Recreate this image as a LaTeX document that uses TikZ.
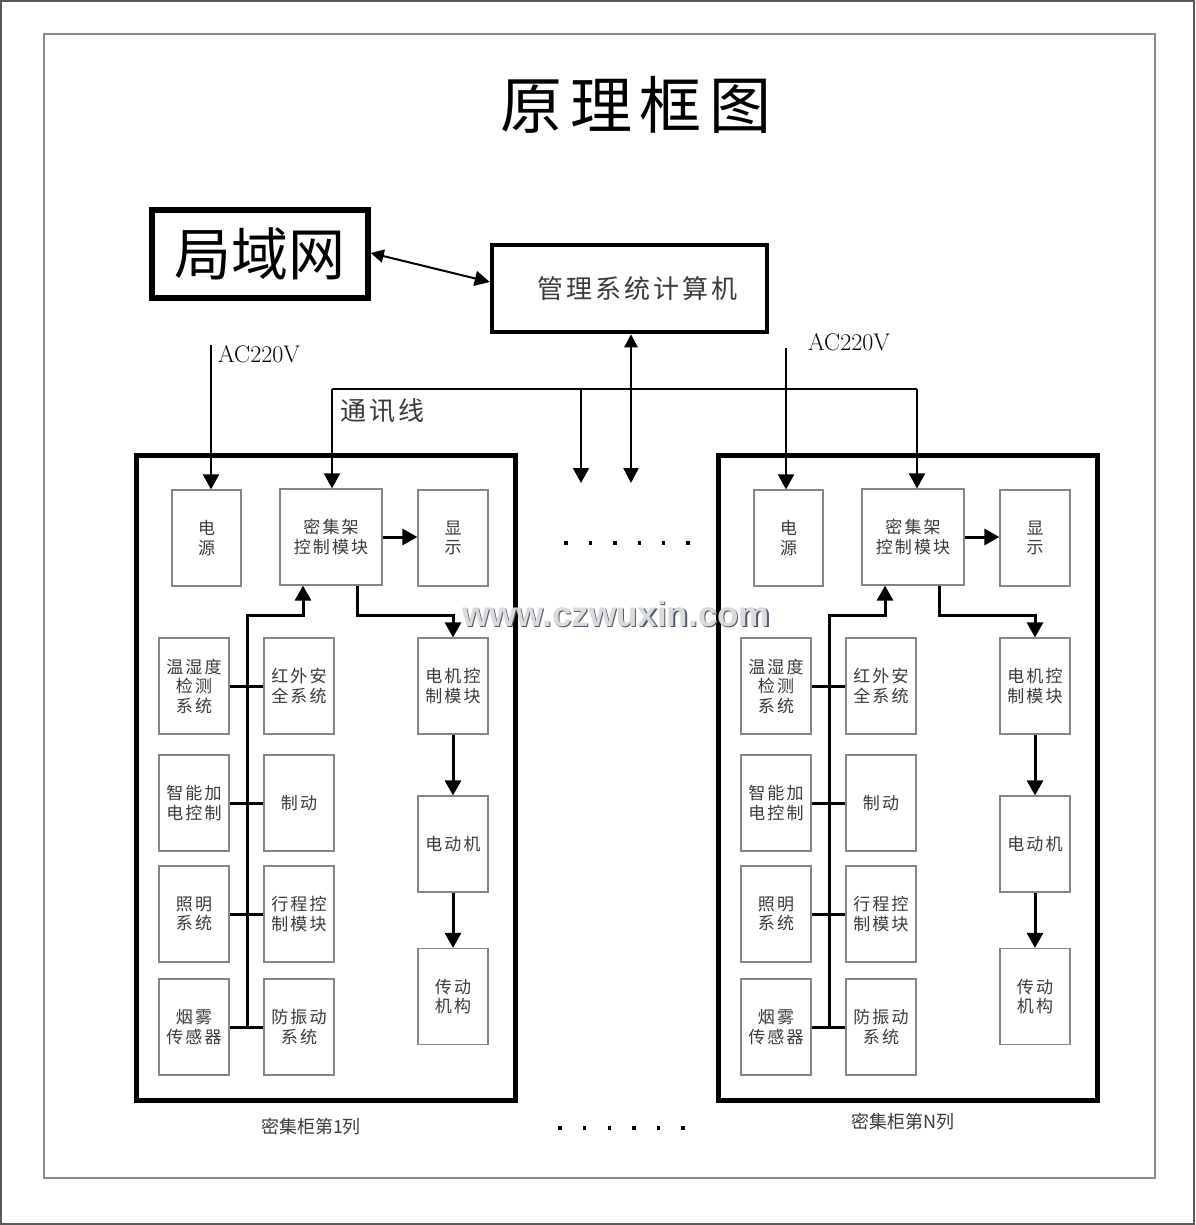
\documentclass[tikz,border=0pt]{standalone}
\usepackage{fontspec}
\usetikzlibrary{arrows.meta}
\newfontfamily\cjk{Noto Sans CJK SC}
\newfontfamily\cjkls[LetterSpace=12]{Noto Sans CJK SC}
\newfontfamily\wmfont{Liberation Sans}
\definecolor{boxgray}{HTML}{858585}
\definecolor{txtgray}{HTML}{3A3A3A}
\definecolor{framegray}{HTML}{8A8A8A}
\definecolor{wmfill}{HTML}{DADADA}
\definecolor{wmshadow}{HTML}{4E5A6E}
\tikzset{
  unitbox/.style={draw=boxgray, line width=1.2pt, minimum width=70pt, minimum height=96pt,
    inner sep=0pt, align=center, text=txtgray, font=\cjkls\fontsize{17}{19.5}\selectfont},
  cabinet/.style={draw=black, line width=5pt, minimum width=379pt, minimum height=645pt, inner sep=0pt},
  wire/.style={line width=3pt, black},
  topwire/.style={line width=2pt, black},
  arr/.style={-{Triangle[length=15pt,width=16pt]}},
  darr/.style={{Triangle[length=13pt,width=13pt]}-{Triangle[length=15pt,width=15pt]}},
  cablabel/.style={inner sep=0pt, text=txtgray, font=\cjk\fontsize{18}{20}\selectfont},
  aclabel/.style={inner sep=0pt, font=\fontsize{24}{26}\selectfont},
}
\newcommand\cabinetblock[2]{%
\begin{scope}[xshift=#2]
\node[cabinet] (#1cab) at (325.5,777.5) {};
\node[unitbox, minimum width=69pt] (#1ps) at (206.5,538) {电\\源};
\node[unitbox, minimum width=102pt] (#1ctl) at (331,537) {密集架\\控制模块};
\node[unitbox] (#1disp) at (453,538) {显\\示};
\node[unitbox] (#1aA) at (194,686) {温湿度\\检测\\系统};
\node[unitbox] (#1bA) at (299,686) {红外安\\全系统};
\node[unitbox] (#1mc) at (453,686) {电机控\\制模块};
\node[unitbox] (#1aB) at (194,803) {智能加\\电控制};
\node[unitbox] (#1bB) at (299,803) {制动};
\node[unitbox] (#1mo) at (453,844) {电动机};
\node[unitbox] (#1aC) at (194,914) {照明\\系统};
\node[unitbox] (#1bC) at (299,914) {行程控\\制模块};
\node[unitbox] (#1tr) at (453,996.5) {传动\\机构};
\node[unitbox] (#1aD) at (194,1027) {烟雾\\传感器};
\node[unitbox] (#1bD) at (299,1027) {防振动\\系统};
\coordinate (#1busB) at (247,1027);
\coordinate (#1busT) at (247,615);
\draw[wire] (#1aA.east) -- (#1bA.west);
\draw[wire] (#1aB.east) -- (#1bB.west);
\draw[wire] (#1aC.east) -- (#1bC.west);
\draw[wire] (#1aD.east) -- (#1bD.west);
\draw[wire, arr] (#1busB) -- (#1busT) -| ([xshift=-28pt]#1ctl.south);
\draw[wire, arr] ([xshift=26pt]#1ctl.south) |- (#1busT -| #1mc.north) -- (#1mc.north);
\draw[wire, arr] (#1ctl.east) -- (#1ctl.east -| #1disp.west);
\draw[wire, arr] (#1mc.south) -- (#1mo.north);
\draw[wire, arr] (#1mo.south) -- (#1tr.north);
\end{scope}}
\begin{document}
\begin{tikzpicture}[x=1pt, y=-1pt]
\useasboundingbox (0,0) rectangle (1195,1225);
\fill[white] (0,0) rectangle (1195,1225);
\draw[black!65, line width=1.5pt] (1,1) rectangle (1194,1224);
\draw[framegray, line width=1.2pt] (44,34) rectangle (1155,1178);

\node[inner sep=0pt, font=\cjkls\fontsize{62}{64}\selectfont] (title) at (636,105) {原理框图};

\node[draw, line width=5.5pt, minimum width=216pt, minimum height=88pt, inner sep=0pt,
  font=\cjk\fontsize{57}{60}\selectfont] (lan) at (260,254) {局域网};
\node[draw, line width=4.5pt, minimum width=275pt, minimum height=87pt, inner sep=0pt,
  text=txtgray, font=\cjkls\fontsize{26}{28}\selectfont] (pc) at (629.5,288.5) {\hspace*{16pt}管理系统计算机};
\draw[topwire, darr] ([yshift=1pt]lan.east) -- ([yshift=6.5pt]pc.west);

\cabinetblock{L}{0pt}
\cabinetblock{R}{582pt}

\node[cablabel] (Llab) at (311,1127) {密集柜第1列};
\node[cablabel] (Rlab) at (903,1122) {密集柜第N列};

% power feeds
\coordinate (acL) at (211,345);
\coordinate (acR) at (786,348);
\draw[topwire, arr] (acL) -- (acL |- Lps.north);
\draw[topwire, arr] (acR) -- (acR |- Rps.north);
\node[aclabel, anchor=west] (acLt) at (218,354) {AC220V};
\node[aclabel, anchor=west] (acRt) at (808,342) {AC220V};

% communication bus
\coordinate (busL) at (332,389);
\coordinate (busR) at (917,389);
\coordinate (brA) at (581,389);
\coordinate (brAe) at (581,483);
\coordinate (brBe) at (631,483);
\draw[topwire, line width=1.8pt] (busL) -- (busR);
\draw[topwire, arr] (busL) -- (busL |- Lctl.north);
\draw[topwire, arr] (busR) -- (busR |- Rctl.north);
\draw[topwire, arr] (brA) -- (brAe);
\draw[topwire, line width=2.4pt, darr] ([xshift=1.5pt]pc.south) -- (brBe);
\node[inner sep=0pt, anchor=west, text=txtgray, font=\cjkls\fontsize{26}{28}\selectfont] (comm) at (340,411) {通讯线};

% dots
\foreach \i in {0,...,5} {
  \fill (566+24.4*\i,543) ++(-1.7,-1.7) rectangle ++(3.4,3.4);
  \fill (560+24.6*\i,1128) ++(-1.7,-1.7) rectangle ++(3.4,3.4);
}

% watermark
\node[inner sep=0pt, text=wmshadow, font=\wmfont\bfseries\fontsize{35}{36}\selectfont] (wmS) at (617.3,615.3) {www.czwuxin.com};
\node[inner sep=0pt, text=wmfill, font=\wmfont\bfseries\fontsize{35}{36}\selectfont] (wm) at (616,614) {www.czwuxin.com};
\end{tikzpicture}
\end{document}
